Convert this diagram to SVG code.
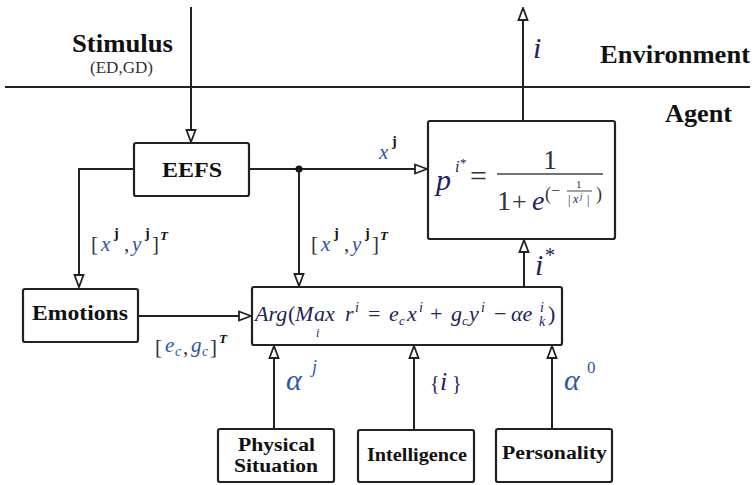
<svg xmlns="http://www.w3.org/2000/svg" width="755" height="485" viewBox="0 0 755 485">
<defs>
<marker id="ah" markerWidth="14" markerHeight="12" refX="13" refY="6" orient="auto" markerUnits="userSpaceOnUse">
<path d="M1,1.5 L13,6 L1,10.5 Z" fill="#fff" stroke="#222" stroke-width="1.8"/>
</marker>
<style>
.box{fill:#fff;stroke:#222;stroke-width:2.2}
.ln{fill:none;stroke:#222;stroke-width:2}
.lab{font-family:'Liberation Serif','DejaVu Serif',serif;font-weight:bold;fill:#111}
.m{font-family:'Liberation Serif','DejaVu Serif',serif;font-style:italic;fill:#23235a}
.mu{font-family:'Liberation Serif','DejaVu Serif',serif;fill:#23235a}
.mb{font-family:'Liberation Serif','DejaVu Serif',serif;fill:#333}
.bl{fill:#2f55a8}
.sup{font-family:'Liberation Serif','DejaVu Serif',serif;font-weight:bold;fill:#111}
</style>
</defs>
<rect width="755" height="485" fill="#fff"/>

<g id="boundary">
<line x1="5" y1="87" x2="750" y2="87" stroke="#222" stroke-width="2"/>
<text class="lab" x="72" y="52" font-size="26" textLength="101" lengthAdjust="spacingAndGlyphs">Stimulus</text>
<text class="mb" x="90" y="73" font-size="16" textLength="63" lengthAdjust="spacingAndGlyphs">(ED,GD)</text>
<text class="lab" x="600" y="63" font-size="26" textLength="150" lengthAdjust="spacingAndGlyphs">Environment</text>
<text class="lab" x="665" y="122" font-size="26" textLength="67" lengthAdjust="spacingAndGlyphs">Agent</text>
</g>

<g id="connectors">
<line class="ln" x1="191" y1="7" x2="191" y2="142" marker-end="url(#ah)"/>
<line class="ln" x1="523" y1="121" x2="523" y2="8" marker-end="url(#ah)"/>
<polyline class="ln" points="134,169 79,169 79,287" marker-end="url(#ah)"/>
<line class="ln" x1="249" y1="169" x2="427" y2="169" marker-end="url(#ah)"/>
<circle cx="299" cy="169" r="3.5" fill="#111"/>
<line class="ln" x1="299" y1="169" x2="299" y2="286" marker-end="url(#ah)"/>
<line class="ln" x1="138" y1="316" x2="251" y2="316" marker-end="url(#ah)"/>
<line class="ln" x1="524" y1="287" x2="524" y2="240" marker-end="url(#ah)"/>
<line class="ln" x1="274" y1="429" x2="274" y2="346" marker-end="url(#ah)"/>
<line class="ln" x1="414" y1="430" x2="414" y2="346" marker-end="url(#ah)"/>
<line class="ln" x1="552" y1="429" x2="552" y2="346" marker-end="url(#ah)"/>

<text class="m" x="533" y="58" font-size="30">i</text>
<g font-size="21">
<text class="mb" x="91" y="251">[</text>
<text class="m bl" x="101" y="251">x</text>
<text class="sup" x="114" y="238" font-size="14">j</text>
<text class="mb" x="124" y="251">,</text>
<text class="m bl" x="132" y="251">y</text>
<text class="sup" x="145" y="238" font-size="14">j</text>
<text class="mb" x="152" y="251">]</text>
<text class="sup" x="160" y="240" font-size="13" font-style="italic">T</text>
</g>
<g font-size="21">
<text class="mb" x="311" y="251">[</text>
<text class="m bl" x="321" y="251">x</text>
<text class="sup" x="334" y="238" font-size="14">j</text>
<text class="mb" x="344" y="251">,</text>
<text class="m bl" x="352" y="251">y</text>
<text class="sup" x="365" y="238" font-size="14">j</text>
<text class="mb" x="372" y="251">]</text>
<text class="sup" x="380" y="240" font-size="13" font-style="italic">T</text>
</g>
<g font-size="21">
<text class="mb" x="155" y="354">[</text>
<text class="m bl" x="165" y="352">e</text>
<text class="m bl" x="175" y="356" font-size="14">c</text>
<text class="mb" x="183" y="354">,</text>
<text class="m bl" x="191" y="352">g</text>
<text class="m bl" x="202" y="356" font-size="14">c</text>
<text class="mb" x="210" y="354">]</text>
<text class="sup" x="219" y="343" font-size="13" font-style="italic">T</text>
</g>
<text class="m bl" x="379" y="159" font-size="21">x</text>
<text class="sup" x="392" y="146" font-size="14">j</text>
<text class="m" x="535" y="275" font-size="30">i</text>
<text class="mu" x="545" y="262" font-size="20">*</text>
<text class="m bl" x="286" y="390" font-size="30">α</text>
<text class="m bl" x="312" y="373" font-size="18">j</text>
<text class="mu" x="430" y="390" font-size="20">{</text>
<text class="m" x="440" y="390" font-size="26">i</text>
<text class="mu" x="452" y="390" font-size="20">}</text>
<text class="m bl" x="564" y="390" font-size="30">α</text>
<text class="mu bl" x="587" y="373" font-size="17">0</text>
</g>

<g id="eefs">
<rect class="box" x="134" y="143" width="115" height="53" rx="2"/>
<text class="lab" x="162" y="177" font-size="21" textLength="60" lengthAdjust="spacingAndGlyphs">EEFS</text>
</g>

<g id="emotions">
<rect class="box" x="23" y="289" width="115" height="53" rx="2"/>
<text class="lab" x="32" y="320" font-size="22" textLength="96" lengthAdjust="spacingAndGlyphs">Emotions</text>
</g>

<g id="sigmoid">
<rect class="box" x="428" y="121" width="187" height="118" rx="2"/>
<text class="m" x="436" y="190" font-size="30" fill="#333">p</text>
<text class="m" x="455" y="172" font-size="16" fill="#333">i</text>
<text class="mu" x="460" y="167" font-size="13" fill="#333">*</text>
<text class="mb" x="470" y="186" font-size="30">=</text>
<line x1="497" y1="174" x2="603" y2="174" stroke="#444" stroke-width="1.5"/>
<text class="mb" x="543" y="169" font-size="28">1</text>
<text class="mb" x="497" y="210" font-size="28">1</text>
<text class="mb" x="512" y="210" font-size="26">+</text>
<text class="m" x="532" y="210" font-size="28" fill="#333">e</text>
<text class="mb" x="545" y="200" font-size="18">(</text>
<text class="mb" x="551" y="196" font-size="16">−</text>
<text class="mb" x="576" y="188" font-size="11">1</text>
<line x1="567" y1="191" x2="592" y2="191" stroke="#444" stroke-width="1"/>
<text class="mb" x="568" y="204" font-size="12">|</text>
<text class="m" x="573" y="203" font-size="12" fill="#333">x</text>
<text class="m" x="580" y="199" font-size="9" fill="#333">j</text>
<text class="mb" x="587" y="204" font-size="12">|</text>
<text class="mb" x="596" y="200" font-size="18">)</text>
</g>

<g id="argmax">
<rect class="box" x="252" y="287" width="310" height="58" rx="2"/>
<text class="m" x="255" y="321" font-size="22">Arg</text>
<text class="mu" x="288" y="321" font-size="22">(</text>
<text class="m" x="295" y="321" font-size="22">M</text>
<text class="m" x="314" y="321" font-size="22">ax</text>
<text class="m" x="345" y="321" font-size="22">r</text>
<text class="m" x="316" y="337" font-size="12">i</text>
<text class="m" x="355" y="312" font-size="14">i</text>
<text class="mu" x="368" y="321" font-size="22">=</text>
<text class="m" x="389" y="321" font-size="22">e</text>
<text class="m" x="399" y="325" font-size="13">c</text>
<text class="m" x="407" y="321" font-size="22">x</text>
<text class="m" x="419" y="312" font-size="14">i</text>
<text class="mu" x="430" y="321" font-size="22">+</text>
<text class="m" x="451" y="321" font-size="22">g</text>
<text class="m" x="462" y="325" font-size="13">c</text>
<text class="m" x="469" y="321" font-size="22">y</text>
<text class="m" x="481" y="312" font-size="14">i</text>
<text class="mu" x="494" y="321" font-size="22">−</text>
<text class="m" x="511" y="321" font-size="22">αe</text>
<text class="m" x="540" y="312" font-size="14">i</text>
<text class="m" x="539" y="326" font-size="14">k</text>
<text class="mu" x="548" y="321" font-size="22">)</text>
</g>

<g id="physical">
<rect class="box" x="218" y="429" width="116" height="53" rx="2"/>
<text class="lab" x="238" y="451" font-size="18" textLength="77" lengthAdjust="spacingAndGlyphs">Physical</text>
<text class="lab" x="234" y="472" font-size="18" textLength="84" lengthAdjust="spacingAndGlyphs">Situation</text>
</g>

<g id="intelligence">
<rect class="box" x="358" y="430" width="116" height="52" rx="2"/>
<text class="lab" x="367" y="461" font-size="18" textLength="100" lengthAdjust="spacingAndGlyphs">Intelligence</text>
</g>

<g id="personality">
<rect class="box" x="496" y="429" width="116" height="53" rx="2"/>
<text class="lab" x="502" y="459" font-size="18" textLength="105" lengthAdjust="spacingAndGlyphs">Personality</text>
</g>
</svg>
